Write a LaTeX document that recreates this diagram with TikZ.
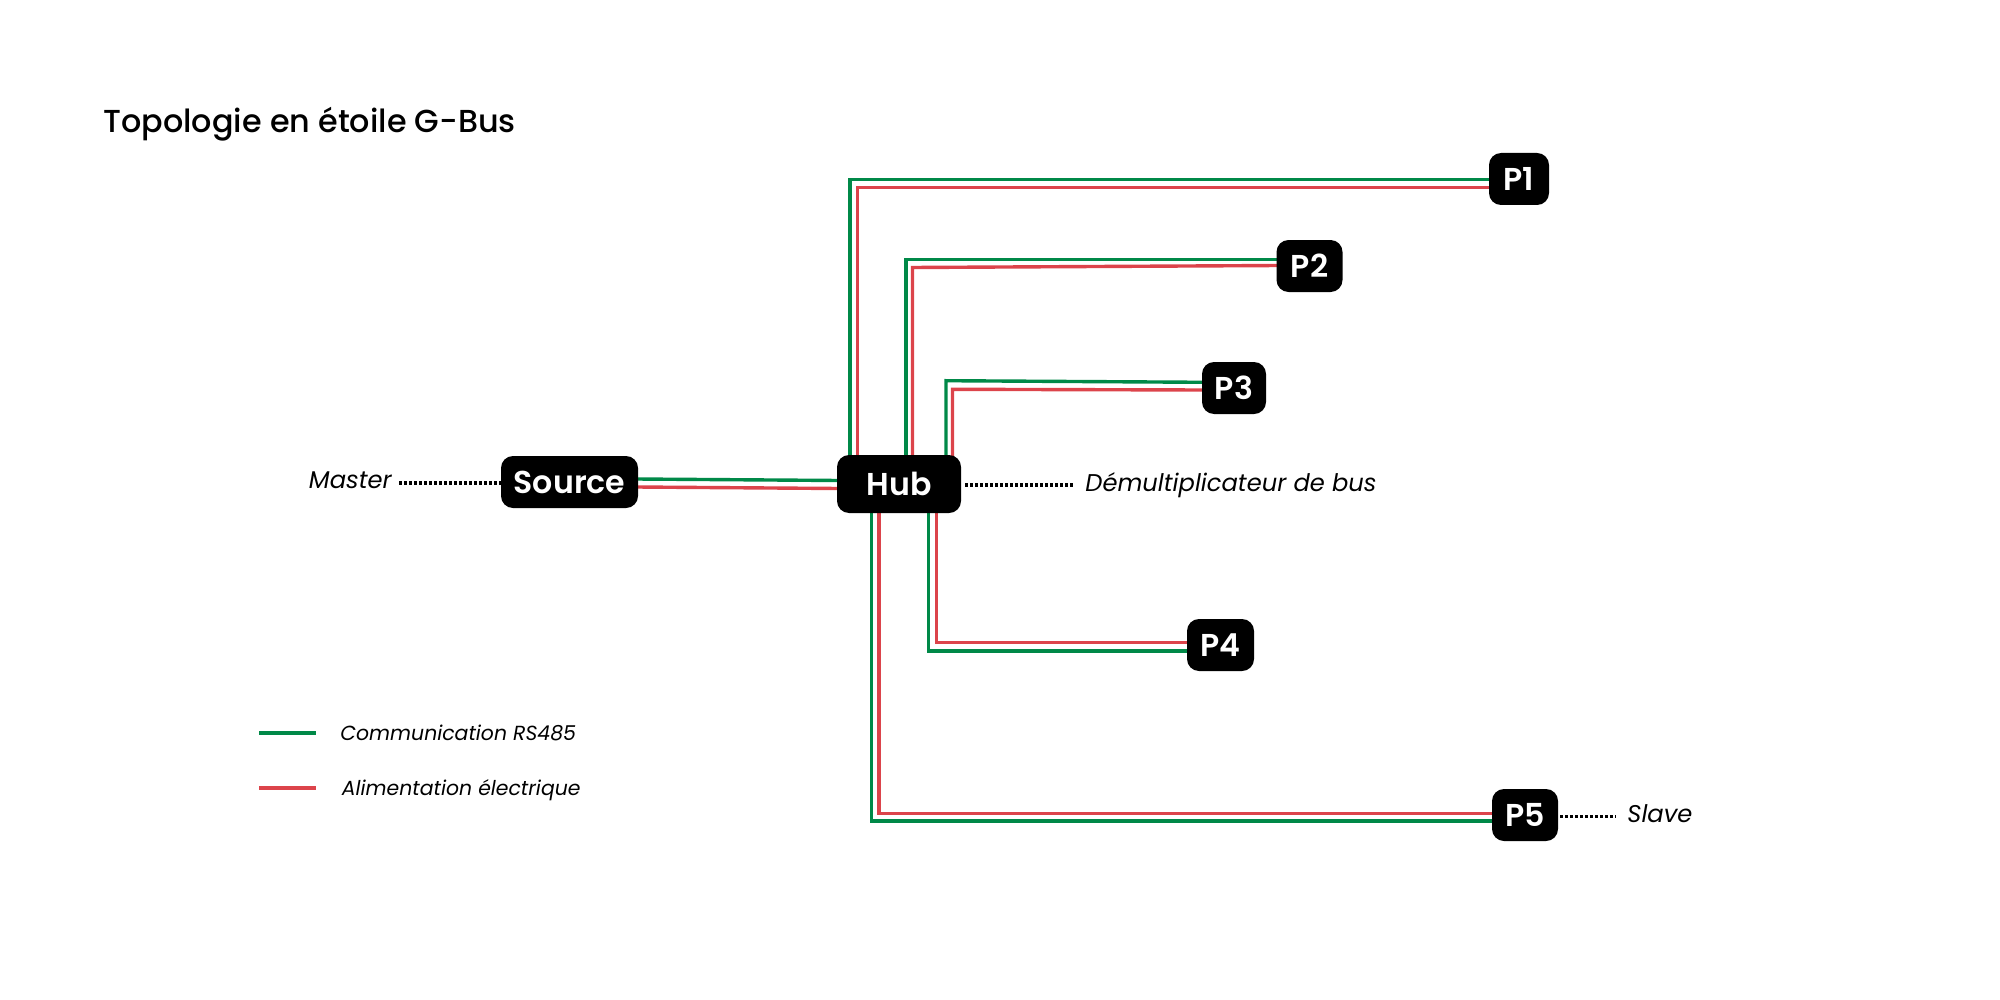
\documentclass[tikz,border=0pt]{standalone}
\usepackage{fontspec}
\setmainfont{Poppins}
\newfontfamily\medfont{Poppins Medium}
\newfontfamily\semifont{Poppins SemiBold}
\usetikzlibrary{backgrounds,calc}
\definecolor{gcol}{RGB}{0,137,72}
\definecolor{rcol}{RGB}{220,68,75}
\tikzset{
  dev/.style={fill=black, rounded corners=6pt, text=white, inner sep=0pt,
    minimum height=26pt, font=\semifont\fontsize{15.8}{19}\selectfont},
  gline/.style={draw=gcol, line width=1.7pt},
  rline/.style={draw=rcol, line width=1.7pt},
  dotline/.style={draw=black, line width=1.6pt, dash pattern=on 1.4pt off 1.1pt},
  lab/.style={font=\fontsize{12.1}{14}\selectfont\itshape, inner sep=0pt},
  leg/.style={font=\fontsize{10.2}{12}\selectfont\itshape, inner sep=0pt},
}
\begin{document}
\begin{tikzpicture}[x=0.5pt, y=-0.5pt]
\useasboundingbox (0,0) rectangle (2000,1000);

\node[anchor=base west, inner sep=0pt, font=\medfont\fontsize{15.9}{18}\selectfont] (title) at (103,133) {Topologie en étoile G-Bus};

\node[dev, minimum width=68.5pt] (Source) at (569.5,482) {Source};
\node[dev, minimum width=62pt, minimum height=29pt] (Hub) at (899,484) {Hub};
\node[dev, minimum width=30pt] (P1) at (1519,179) {P1};
\node[dev, minimum width=33pt] (P2) at (1309.5,266) {P2};
\node[dev, minimum width=32pt] (P3) at (1234,388) {P3};
\node[dev, minimum width=33.5pt] (P4) at (1220.5,645) {P4};
\node[dev, minimum width=33pt] (P5) at (1525,815) {P5};

\node[lab, anchor=base east] (master) at (392,488) {Master};
\node[lab, anchor=base west] (demux) at (1085,491) {Démultiplicateur de bus};
\node[lab, anchor=base west] (slave) at (1627,822) {Slave};

\begin{scope}[on background layer]
  % Source - Hub
  \draw[gline] ($(Source.east)+(-2,-3)$) -- ($(Hub.west)+(2,-3.5)$);
  \draw[rline] ($(Source.east)+(-2,5)$) -- ($(Hub.west)+(2,4.5)$);
  % P1
  \draw[gline] ($(Hub.north -| 850,0)+(0,4)$) -- (850,179.3) -- ($(P1.west |- 0,179.3)+(2,0)$);
  \draw[rline] ($(Hub.north -| 857.3,0)+(0,4)$) -- (857.3,187.3) -- ($(P1.west |- 0,187.3)+(2,0)$);
  % P2
  \draw[gline] ($(Hub.north -| 906,0)+(0,4)$) -- (906,259.5) -- ($(P2.west |- 0,259.5)+(2,0)$);
  \draw[rline] ($(Hub.north -| 912.5,0)+(0,4)$) -- (912.5,267.5) -- ($(P2.west |- 0,265.5)+(2,0)$);
  % P3
  \draw[gline] ($(Hub.north -| 946,0)+(0,4)$) -- (946,380.7) -- ($(P3.west |- 0,382.3)+(2,0)$);
  \draw[rline] ($(Hub.north -| 952.5,0)+(0,4)$) -- (952.5,389.3) -- ($(P3.west |- 0,390)+(2,0)$);
  % P4
  \draw[gline] ($(Hub.south -| 928.3,0)+(0,-4)$) -- (928.3,651) -- ($(P4.west |- 0,651)+(2,0)$);
  \draw[rline] ($(Hub.south -| 936.7,0)+(0,-4)$) -- (936.7,642.7) -- ($(P4.west |- 0,642.7)+(2,0)$);
  % P5
  \draw[gline] ($(Hub.south -| 871.7,0)+(0,-4)$) -- (871.7,821) -- ($(P5.west |- 0,821)+(2,0)$);
  \draw[rline] ($(Hub.south -| 879,0)+(0,-4)$) -- (879,813.7) -- ($(P5.west |- 0,813.7)+(2,0)$);
\end{scope}

% dotted annotations
\draw[dotline] ($(master.east |- 0,483)+(7,0)$) -- (Source.west |- 0,483);
\draw[dotline] ($(Hub.east |- 0,485)+(4,0)$) -- ($(demux.west |- 0,485)+(-10,0)$);
\draw[dotline] ($(P5.east |- 0,816.5)+(2,0)$) -- ($(slave.west |- 0,816.5)+(-11,0)$);

% legend
\coordinate (lg1) at (259,733);
\coordinate (lg2) at (316,733);
\coordinate (lr1) at (259,788);
\coordinate (lr2) at (316,788);
\draw[gline] (lg1) -- (lg2);
\draw[rline] (lr1) -- (lr2);
\node[leg, anchor=base west] (legg) at (340,740) {Communication RS485};
\node[leg, anchor=base west] (legr) at (341.5,795) {Alimentation électrique};
\end{tikzpicture}
\end{document}
